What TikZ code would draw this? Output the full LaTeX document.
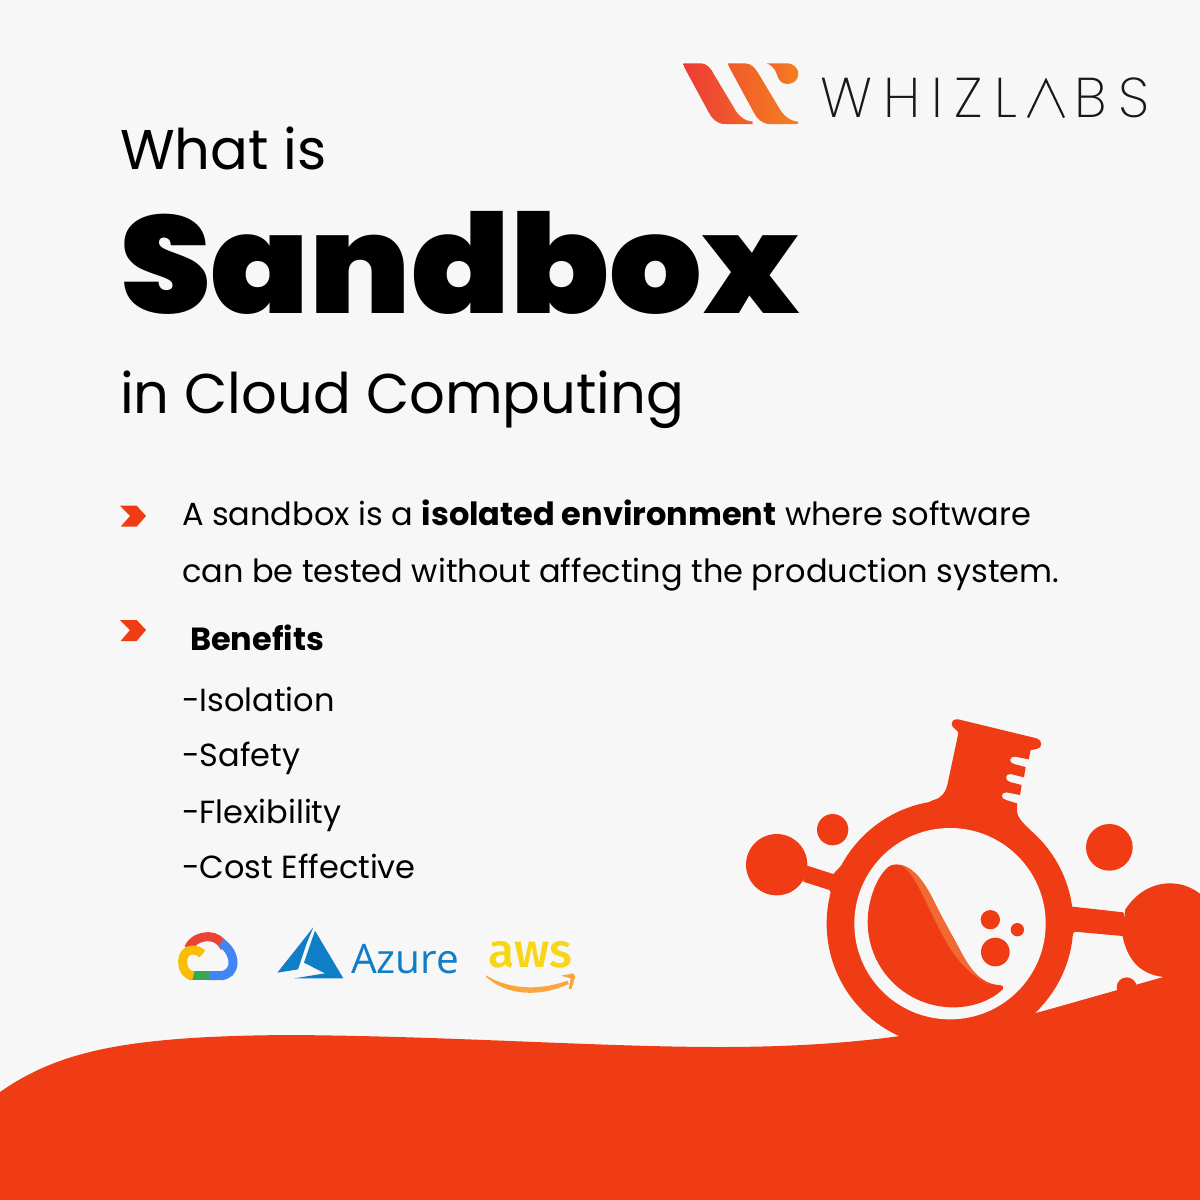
\documentclass[tikz,border=0pt]{standalone}
\usepackage{fontspec}
\setmainfont{Poppins}
\newfontfamily\pblack{Poppins}[UprightFont=* Black]
\newfontfamily\plight{Poppins}[UprightFont=* ExtraLight]
\newfontfamily\azf{Open Sans}
\newfontfamily\awsf{Fira Sans}[UprightFont=* Medium]
\definecolor{bg}{HTML}{F7F7F7}
\definecolor{flame}{HTML}{F03C14}
\definecolor{flamelight}{HTML}{F26A33}
\definecolor{azblue}{HTML}{0F7EC7}
\definecolor{awsy}{HTML}{F8D616}
\definecolor{awso}{HTML}{F9A63C}
\definecolor{gred}{HTML}{EA4335}
\definecolor{gblue}{HTML}{4285F4}
\definecolor{ggreen}{HTML}{34A853}
\definecolor{gyellow}{HTML}{FBBC05}
\definecolor{wa}{HTML}{EE3B35}
\definecolor{wb}{HTML}{F0642A}
\definecolor{wc}{HTML}{EF5A2B}
\definecolor{wd}{HTML}{F68020}
\tikzset{
  txt/.style={anchor=base west,inner sep=0pt,outer sep=0pt,text=black},
  body/.style={txt,font=\fontsize{16}{20}\selectfont},
  title/.style={txt,font=\fontsize{28}{34}\selectfont},
  gstroke/.style={line width=4.5pt,line cap=butt},
  zoomflask/.style={shift={(720,700)},x=0.16667pt,y=-0.16667pt},
  zoomicons/.style={shift={(160,910)},x=0.16667pt,y=-0.16667pt},
}
\begin{document}
\begin{tikzpicture}[x=0.5pt,y=-0.5pt]
\useasboundingbox (0,0) rectangle (1200,1200);
\fill[bg] (0,0) rectangle (1200,1200);

% ---- titles
\node[title] (what) at (120,169) {What is};
\node[txt,font=\pblack\fontsize{69}{80}\selectfont,xscale=1.055,transform shape] (sand) at (120,313) {Sandbox};
\node[title] (cloud) at (120,413) {in Cloud Computing};

% ---- body
\node[body] (l1) at (182,525) {A sandbox is a \textbf{isolated environment} where software};
\node[body] (l2) at (182,582) {can be tested without affecting the production system.};
\node[body] (ben) at (190,650) {\textbf{Benefits}};
\node[body] (b1) at (182,711) {-Isolation};
\node[body] (b2) at (182,766) {-Safety};
\node[body] (b3) at (182,823) {-Flexibility};
\node[body] (b4) at (182,878) {-Cost Effective};

% ---- chevrons
\begin{scope}[shift={(110,490)},x=0.16667pt,y=-0.16667pt]
\fill[flame] (30,47)--(80,47)--(108,78)--(80,110)--(32,110)--(60,78)--cycle;
\fill[flame] (30,390)--(80,390)--(108,420)--(80,453)--(32,453)--(60,420)--cycle;
\end{scope}

% ---- bottom wave
\fill[flame] (0,1092) .. controls (60,1050) and (130,1036) .. (290,1035)
  .. controls (450,1036) and (600,1047) .. (720,1047)
  .. controls (790,1047) and (850,1043) .. (900,1036)
  -- (1040,1012) -- (1164,977) -- (1200,1000) -- (1200,1200) -- (0,1200) -- cycle;

% ---- flask
\begin{scope}[zoomflask]
\fill[flame] (690,671) circle (370);
\fill[flame] (560,340) -- (640,300) .. controls (665,295) and (678,275) .. (683,250)
  -- (715,100) .. controls (716,90) and (695,85) .. (695,72)
  .. controls (695,62) and (705,56) .. (715,58)
  -- (950,115) .. controls (968,120) and (968,145) .. (950,147)
  -- (932,150) -- (926,178) -- (885,170) .. controls (868,168) and (864,188) .. (882,192)
  -- (917,201) -- (912,232) -- (872,222) .. controls (855,220) and (852,242) .. (870,246)
  -- (905,255) -- (900,285) -- (860,277) .. controls (842,276) and (840,296) .. (858,300)
  -- (891,310) -- (891,335) .. controls (892,350) and (905,365) .. (930,390)
  -- (900,500) -- (600,500) -- cycle;
% connectors and balls
\fill[flame] (170,494) circle (92);
\fill[flame] (255,495) -- (340,522) -- (370,490) -- (340,590) -- (328,570) -- (250,545) -- cycle;
\fill[flame] (338,389) circle (47);
\fill[flame] (1168,442) circle (70);
\fill[flame] (1040,618) -- (1210,637) -- (1230,710) -- (1065,695) -- (1040,720) -- cycle;
\fill[flame] (1215,630) .. controls (1250,575) and (1300,550) .. (1350,550)
  .. controls (1390,550) and (1420,565) .. (1445,585) -- (1445,900) -- (1333,831)
  .. controls (1270,825) and (1225,790) .. (1208,710) -- cycle;
\fill[flame] (1220,862) circle (30);
\fill[flame] (955,938) -- (1335,830) -- (1445,850) -- (1445,1060) -- (900,1060) -- cycle;
\fill[flame] (525,1010) -- (900,1060) -- (520,1060) -- cycle;
% inner hole
\fill[bg] (690,671) circle (287);
% liquid
\fill[flame] (515,495) .. controls (480,510) and (443,590) .. (443,665)
  .. controls (443,810) and (560,922) .. (700,922)
  .. controls (760,922) and (815,900) .. (848,868)
  .. controls (852,860) and (848,855) .. (835,855)
  .. controls (780,850) and (750,805) .. (725,760)
  .. controls (700,712) and (682,682) .. (655,630)
  .. controls (630,580) and (595,500) .. (530,493)
  .. controls (525,493) and (520,494) .. (515,495) -- cycle;
\fill[flamelight] (540,494) .. controls (595,503) and (630,580) .. (655,630)
  .. controls (682,682) and (700,712) .. (725,760)
  .. controls (750,805) and (780,850) .. (815,855)
  .. controls (760,835) and (720,790) .. (690,745)
  .. controls (660,695) and (640,650) .. (620,610)
  .. controls (600,570) and (575,510) .. (540,494) -- cycle;
% bubbles
\fill[flame] (811,659) circle (29);
\fill[flame] (892,689) circle (20);
\fill[flame] (826,756) circle (43);
\end{scope}

% ---- whizlabs logo
\begin{scope}[shift={(670,50)},x=0.16667pt,y=-0.16667pt]
\shade[left color=wa,right color=wb]
  (40,40) -- (90,40) .. controls (112,40) and (122,55) .. (130,70)
  -- (190,170) .. controls (205,200) and (225,213) .. (248,215)
  -- (248,222) -- (165,222) .. controls (140,222) and (125,205) .. (115,185)
  -- (50,65) .. controls (45,55) and (40,47) .. (40,40) -- cycle;
\shade[left color=wc,right color=wd]
  (173,40) -- (225,40) .. controls (245,40) and (255,55) .. (265,70)
  -- (325,170) .. controls (340,198) and (360,213) .. (385,215)
  -- (383,222) -- (300,222) .. controls (275,222) and (260,205) .. (250,185)
  -- (185,65) .. controls (180,55) and (175,47) .. (173,40) -- cycle;
\shade[left color=wb,right color=wd]
  (290,40) -- (350,40) .. controls (372,40) and (385,55) .. (385,72)
  .. controls (385,90) and (370,102) .. (352,102)
  .. controls (335,102) and (325,90) .. (320,72)
  .. controls (316,58) and (305,45) .. (290,40) -- cycle;
\end{scope}
\node[txt,font=\plight\fontsize{28}{32}\selectfont,text=black!90] (wz) at (820,117) {W\hspace{5.6pt}H\hspace{5.6pt}I\hspace{5.6pt}Z\hspace{5.6pt}L\hspace{5.6pt}A\hspace{5.6pt}B\hspace{5.6pt}S};
% the logo's A has no bar: cover the bar and redraw the two strokes
\fill[bg] (1025,75) rectangle (1068,119);
\draw[black!90,line width=1.05pt] (1028,117.5) -- (1046,80) -- (1064,117.5);

% ---- Google cloud
\begin{scope}[zoomicons]
\draw[gred,gstroke] (86,115) .. controls (95,92) and (120,80) .. (145,80) .. controls (165,80) and (185,92) .. (194,112);
\draw[gblue,gstroke] (183,98) .. controls (205,112) and (219,135) .. (219,158) .. controls (219,182) and (203,197) .. (180,197) -- (145,197);
\draw[ggreen,gstroke] (146,197) -- (88,197);
\draw[gyellow,gstroke] (127,132) .. controls (118,122) and (105,120) .. (97,120) .. controls (78,120) and (68,137) .. (68,154) .. controls (68,180) and (82,197) .. (100,197);
\end{scope}

% ---- Azure
\begin{scope}[zoomicons]
\fill[azblue] (460,52) -- (352,188) -- (414,178) -- (440,100) -- cycle;
\fill[azblue] (465,62) -- (432,158) -- (495,190) -- (403,205) -- (550,205) -- cycle;
\end{scope}
\node[txt,text=azblue,font=\azf\fontsize{20.3}{24}\selectfont] (azure) at (351,973) {Azure};

% ---- AWS
\node[txt,text=awsy,font=\awsf\fontsize{24}{26}\selectfont] (aws) at (488,967) {aws};
\begin{scope}[zoomicons]
\fill[awso] (978,196) .. controls (1040,235) and (1130,245) .. (1222,212)
  -- (1226,222) .. controls (1140,262) and (1040,258) .. (978,200) -- cycle;
\fill[awso] (1203,197) -- (1240,190) -- (1246,200) -- (1234,238) -- (1226,236) -- (1232,205) -- cycle;
\end{scope}
\end{tikzpicture}
\end{document}
